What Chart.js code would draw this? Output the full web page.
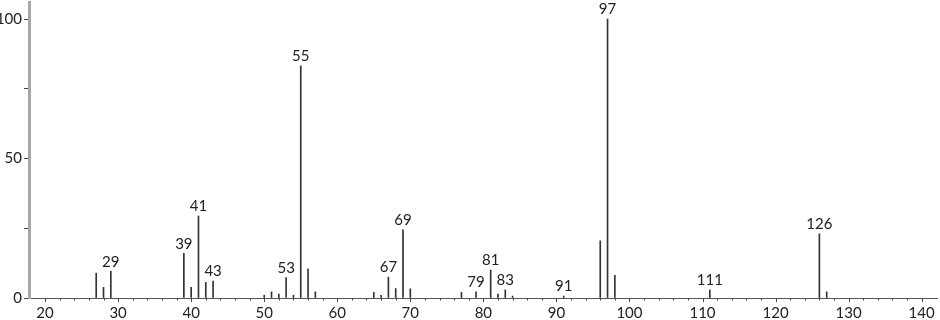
<!DOCTYPE html>
<html>
<head>
    <title>Mass spectrum</title>
    <script src="https://cdn.jsdelivr.net/npm/chart.js"></script>
    <style>
        html, body { margin: 0; padding: 0; background: #fff; }
        #chart-container { width: 940px; height: 320px; }
    </style>
</head>
<body>
<div id="chart-container">
    <canvas id="spectrumChart" width="940" height="320"></canvas>
</div>

<script>
    // m/z values and relative intensities
    const masses = [27, 28, 29, 39, 40, 41, 42, 43, 50, 51, 52, 53, 54, 55, 56, 57,
        65, 66, 67, 68, 69, 70, 77, 79, 81, 82, 83, 84, 91, 96, 97, 98, 111, 126, 127];
    const intensities = [8.9, 3.8, 9.6, 16.0, 3.8, 29.4, 5.6, 6.1, 1.0, 2.2, 1.4, 7.3, 1.0, 83.2, 10.5, 2.2,
        2.0, 1.0, 7.5, 3.4, 24.4, 3.3, 2.0, 2.2, 10.0, 1.4, 2.9, 0.7, 0.7, 20.5, 100, 8.1, 2.9, 23.0, 2.2];
    // peaks that carry a number above them
    const labeledPeaks = [29, 39, 41, 43, 53, 55, 67, 69, 79, 81, 83, 91, 97, 111, 126];
    const xTickLabels = [20, 30, 40, 50, 60, 70, 80, 90, 100, 110, 120, 130, 140];
    const yTickLabels = [0, 50, 100];

    const FONT = 'Lato, "DejaVu Sans", sans-serif';

    // short ticks under the x axis, longer on the labelled decades
    const xTickPlugin = {
        id: 'xTicks',
        afterDraw(chart) {
            const c = chart.ctx;
            const x = chart.scales.x;
            const y0 = chart.chartArea.bottom;
            c.save();
            c.strokeStyle = '#444';
            c.lineWidth = 1;
            x.ticks.forEach(t => {
                const px = Math.round(x.getPixelForValue(t.value)) + 0.5;
                const len = xTickLabels.includes(t.value) ? 4 : 2.5;
                c.beginPath();
                c.moveTo(px, y0);
                c.lineTo(px, y0 + len);
                c.stroke();
            });
            c.restore();
        }
    };

    // numbers above the main peaks
    const peakLabelPlugin = {
        id: 'peakLabels',
        afterDatasetsDraw(chart) {
            const c = chart.ctx;
            const meta = chart.getDatasetMeta(0);
            c.save();
            c.font = '15px ' + FONT;
            c.fillStyle = '#222';
            c.textAlign = 'center';
            c.textBaseline = 'bottom';
            meta.data.forEach((bar, i) => {
                if (labeledPeaks.includes(masses[i])) {
                    c.fillText(String(masses[i]), bar.x, bar.y - 2);
                }
            });
            c.restore();
        }
    };

    const ctx = document.getElementById('spectrumChart').getContext('2d');
    const spectrumChart = new Chart(ctx, {
        type: 'bar',
        data: {
            datasets: [{
                data: masses.map((m, i) => ({x: m, y: intensities[i]})),
                backgroundColor: '#333',
                borderWidth: 0,
                barThickness: 1,
                grouped: false
            }]
        },
        options: {
            responsive: false,
            animation: false,
            events: [],
            layout: { padding: { top: 2, right: 3, left: 0, bottom: 0 } },
            plugins: {
                legend: { display: false },
                tooltip: { enabled: false }
            },
            scales: {
                x: {
                    type: 'linear',
                    min: 17.8,
                    max: 142.1,
                    offset: false,
                    afterBuildTicks: s => {
                        s.ticks = s.ticks.filter(t => Number.isInteger(t.value) && t.value % 2 === 0);
                    },
                    afterFit: s => { s.height = 22; s.paddingLeft = 0; s.paddingRight = 0; },
                    ticks: {
                        stepSize: 2,
                        autoSkip: false,
                        maxRotation: 0,
                        padding: 2,
                        color: '#222',
                        font: { family: FONT, size: 15 },
                        callback: v => xTickLabels.includes(v) ? String(v) : ''
                    },
                    grid: { display: true, drawOnChartArea: false, drawTicks: true, tickLength: 4, tickColor: 'rgba(0,0,0,0)' },
                    border: { display: true, color: '#555', width: 1 }
                },
                y: {
                    min: 0,
                    max: 106.1,
                    afterBuildTicks: s => {
                        s.ticks = [0, 25, 50, 75, 100].map(v => ({value: v}));
                    },
                    afterFit: s => { s.width = 29; s.paddingTop = 0; s.paddingBottom = 0; },
                    ticks: {
                        autoSkip: false,
                        padding: 2,
                        color: '#222',
                        font: { family: FONT, size: 15 },
                        callback: v => yTickLabels.includes(v) ? String(v) : ''
                    },
                    grid: { drawOnChartArea: false, drawTicks: true, tickLength: 5, tickColor: '#444' },
                    border: { display: true, color: '#a8a8a8', width: 3 }
                }
            }
        },
        plugins: [xTickPlugin, peakLabelPlugin]
    });
</script>
</body>
</html>
